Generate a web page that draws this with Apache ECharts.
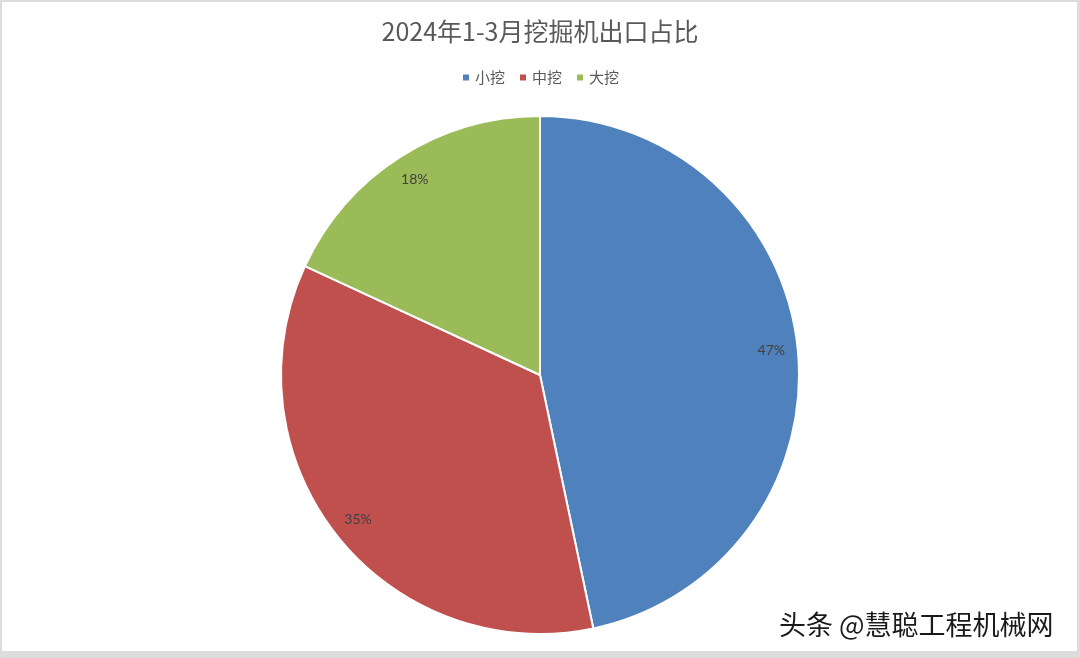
<!DOCTYPE html>
<html>
<head>
<meta charset="utf-8">
<script src="https://cdn.jsdelivr.net/npm/echarts@6/dist/echarts.min.js"></script>
<style>
html,body{margin:0;padding:0;background:#fff;}
#chart{width:1080px;height:658px;}
</style>
</head>
<body>
<div id="chart"></div>
<script>
const titleText = '2024年1-3月挖掘机出口占比';
const categories = ['小挖', '中挖', '大挖'];
const shares = [46.7, 35.2, 18.1];
const colors = ['#4F81BD', '#C0504D', '#9BBB59'];
const watermark = '头条 @慧聪工程机械网';

const data = categories.map((c, i) => ({ name: c, value: shares[i], itemStyle: { color: colors[i] } }));

const chart = echarts.init(document.getElementById('chart'), null, { renderer: 'canvas' });
chart.setOption({
  animation: false,
  backgroundColor: '#fff',
  title: {
    text: titleText,
    left: 'center',
    top: 14,
    textStyle: { fontFamily: 'Noto Sans CJK SC', fontSize: 25, fontWeight: 'normal', color: '#595959' }
  },
  legend: {
    top: 65,
    left: 'center',
    icon: 'rect',
    itemWidth: 8,
    itemHeight: 8,
    itemGap: 13,
    data: categories,
    textStyle: { fontFamily: 'Noto Sans CJK SC', fontSize: 15, color: '#595959' }
  },
  graphic: [
    { type: 'rect', z: -10, shape: { x: 0, y: 0, width: 1080, height: 658 }, style: { fill: '#dcdcdc' }, silent: true },
    { type: 'rect', z: -9, shape: { x: 2, y: 2, width: 1075, height: 649 }, style: { fill: '#ffffff' }, silent: true },
    {
      type: 'text', z: 100, left: 779, top: 611,
      style: {
        text: watermark, fontFamily: 'Noto Sans CJK SC', fontSize: 27, fill: '#1a1a1a',
        textShadowColor: 'rgba(255,255,255,0.9)', textShadowBlur: 2, textShadowOffsetX: 1, textShadowOffsetY: 1
      }
    }
  ],
  series: [
    {
      type: 'pie',
      center: [540, 375],
      radius: [0, 259],
      startAngle: 90,
      clockwise: true,
      data: data,
      label: { show: false },
      labelLine: { show: false },
      itemStyle: { borderColor: '#ffffff', borderWidth: 2 },
      emphasis: { disabled: true }
    },
    {
      type: 'pie',
      center: [540, 375],
      radius: [200, 259],
      startAngle: 90,
      clockwise: true,
      silent: true,
      data: data.map(d => ({ name: d.name, value: d.value })),
      itemStyle: { color: 'rgba(0,0,0,0)', borderWidth: 0 },
      label: {
        show: true,
        position: 'inside',
        formatter: p => Math.round(p.value) + '%',
        fontFamily: 'Lato',
        fontSize: 14,
        color: '#404040'
      },
      labelLine: { show: false },
      emphasis: { disabled: true }
    }
  ]
});
</script>
</body>
</html>
